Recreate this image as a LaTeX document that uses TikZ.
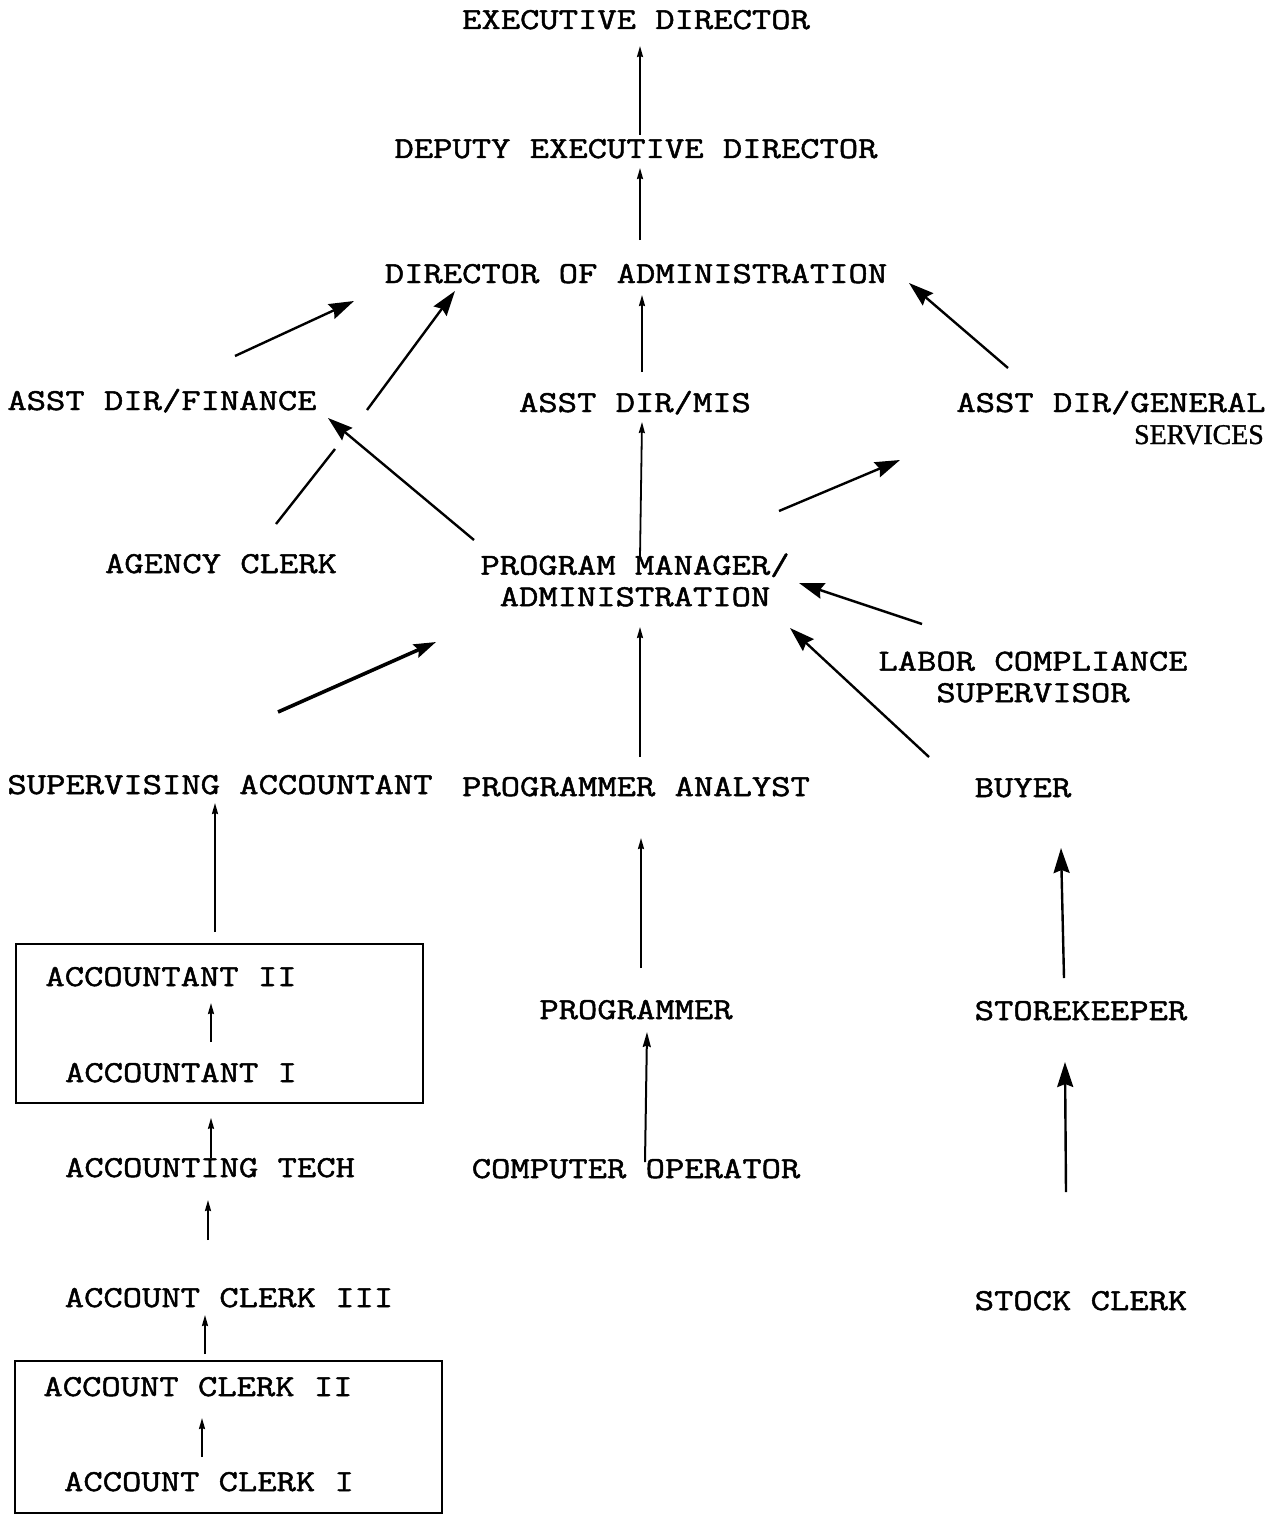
\documentclass[tikz,border=0pt]{standalone}
\usepackage{fontspec}
\newfontfamily\chartfont{Latin Modern Mono}[FakeStretch=1.23,FakeBold=1.6]
\newfontfamily\servfont{Liberation Serif}[FakeStretch=0.98,FakeBold=1.2]
\usepackage{tikz}
\usetikzlibrary{arrows.meta}
\tikzset{
    post/.style={font={\chartfont\fontsize{30.5}{31.5}\selectfont}, inner sep=0pt, anchor=base},
    postTwo/.style={post, anchor=center, align=center},
    groupBox/.style={draw, line width=1.6pt, inner sep=0pt}
}
\tikzset{
    smallArrow/.style={line width=1.8pt, -{Stealth[length=11pt,width=6pt,inset=1pt]}},
    midArrow/.style={line width=2pt, -{Stealth[length=15pt,width=8pt,inset=1.5pt]}},
    bigArrow/.style={line width=2.4pt, -{Stealth[length=25pt,width=16pt,inset=3pt]}},
    heavyArrow/.style={line width=3.6pt, -{Stealth[length=22pt,width=14pt,inset=3pt]}}
}
\begin{document}
\begin{tikzpicture}[x=1pt,y=-1pt]
    \useasboundingbox (0,0) rectangle (1279,1517);
    % top of the chart
    \node[post] (exec) at (636,29) {EXECUTIVE DIRECTOR};
    \node[post] (dep) at (636,158) {DEPUTY EXECUTIVE DIRECTOR};
    \node[post] (dir) at (636,283) {DIRECTOR OF ADMINISTRATION};
    \node[post] (fin) at (162,410) {ASST DIR/FINANCE};
    \node[post] (mis) at (635,412) {ASST DIR/MIS};
    \node[post] (gen) at (1111,412) {ASST DIR/GENERAL};
    \node[inner sep=0pt, anchor=base east, font={\servfont\fontsize{28.5}{28.5}\selectfont}] (serv) at (1264,444) {SERVICES};
    \node[post] (agency) at (221,573) {AGENCY CLERK};
    \node[postTwo] (pm) at (635,580) {PROGRAM MANAGER/\\ADMINISTRATION};
    \node[postTwo] (labor) at (1033,677) {LABOR COMPLIANCE\\SUPERVISOR};
    % second half
    \node[post] (sa) at (220,794) {SUPERVISING ACCOUNTANT};
    \node[post] (pa) at (636,796) {PROGRAMMER ANALYST};
    \node[post] (buyer) at (1023,797) {BUYER};
    \node[groupBox, minimum width=407pt, minimum height=159pt] (accBox) at (219.5,1023.5) {};
    \node[post] (acc2) at (171,986) {ACCOUNTANT II};
    \node[post] (acc1) at (181,1082) {ACCOUNTANT I};
    \node[post] (tech) at (210,1177) {ACCOUNTING TECH};
    \node[post] (clerk3) at (229,1307) {ACCOUNT CLERK III};
    \node[groupBox, minimum width=427pt, minimum height=152pt] (clerkBox) at (228.5,1437) {};
    \node[post] (clerk2) at (198,1396) {ACCOUNT CLERK II};
    \node[post] (clerk1) at (209,1491) {ACCOUNT CLERK I};
    \node[post] (prog) at (636,1019) {PROGRAMMER};
    \node[post] (co) at (636,1178) {COMPUTER OPERATOR};
    \node[post] (store) at (1081,1020) {STOREKEEPER};
    \node[post] (stock) at (1081,1310) {STOCK CLERK};

    % middle column
    \draw[smallArrow] ([shift={(4,-23)}]dep.base) -- ([shift={(4,17)}]exec.base);
    \draw[smallArrow] ([shift={(4,-43)}]dir.base) -- ([shift={(4,10)}]dep.base);
    \draw[smallArrow] ([shift={(7,-40)}]mis.base) -- ([shift={(6,12)}]dir.base);
    \draw[smallArrow] ([shift={(5,-23)}]pm.center) -- ([shift={(7,10)}]mis.base);
    \draw[smallArrow] ([shift={(4,-39)}]pa.base) -- ([shift={(5,47)}]pm.center);
    \draw[smallArrow] ([shift={(5,-51)}]prog.base) -- ([shift={(5,42)}]pa.base);
    \draw[midArrow] ([shift={(9,-16)}]co.base) -- ([shift={(11,13)}]prog.base);
    % into the director and the assistants
    \draw[bigArrow] ([shift={(73,-54)}]fin.base) -- ([shift={(-282,18)}]dir.base);
    \draw[bigArrow] ([shift={(55,-49)}]agency.base) -- ([shift={(114,-124)}]agency.base)
        ([shift={(146,-163)}]agency.base) -- ([shift={(-181,8)}]dir.base);
    \draw[bigArrow] ([shift={(-103,-44)}]gen.base) -- ([shift={(273,0)}]dir.base);
    \draw[bigArrow] ([shift={(-161,-40)}]pm.center) -- ([shift={(166,8)}]fin.base);
    \draw[bigArrow] ([shift={(144,-69)}]pm.center) -- ([shift={(-211,48)}]gen.base);
    % into the program manager
    \draw[bigArrow] ([shift={(-111,-53)}]labor.center) -- ([shift={(164,3)}]pm.center);
    \draw[bigArrow] ([shift={(-94,-40)}]buyer.base) -- ([shift={(155,48)}]pm.center);
    \draw[heavyArrow] ([shift={(58,-82)}]sa.base) -- ([shift={(-199,62)}]pm.center);
    % left column
    \draw[smallArrow] ([shift={(-4.5,-11)}]accBox.north) -- ([shift={(-5,9)}]sa.base);
    \draw[smallArrow] ([shift={(30,-40)}]acc1.base) -- ([shift={(40,17)}]acc2.base);
    \draw[smallArrow] ([shift={(1,-19)}]tech.base) -- ([shift={(-8.5,14)}]accBox.south);
    \draw[smallArrow] ([shift={(-21,-67)}]clerk3.base) -- ([shift={(-2,23)}]tech.base);
    \draw[smallArrow] ([shift={(-23.5,-6)}]clerkBox.north) -- ([shift={(-24,8)}]clerk3.base);
    \draw[smallArrow] ([shift={(-7,-34)}]clerk1.base) -- ([shift={(4,22)}]clerk2.base);
    % right column
    \draw[bigArrow] ([shift={(-17,-42)}]store.base) -- ([shift={(38,51)}]buyer.base);
    \draw[bigArrow] ([shift={(-15,-118)}]stock.base) -- ([shift={(-16,42)}]store.base);
\end{tikzpicture}
\end{document}
